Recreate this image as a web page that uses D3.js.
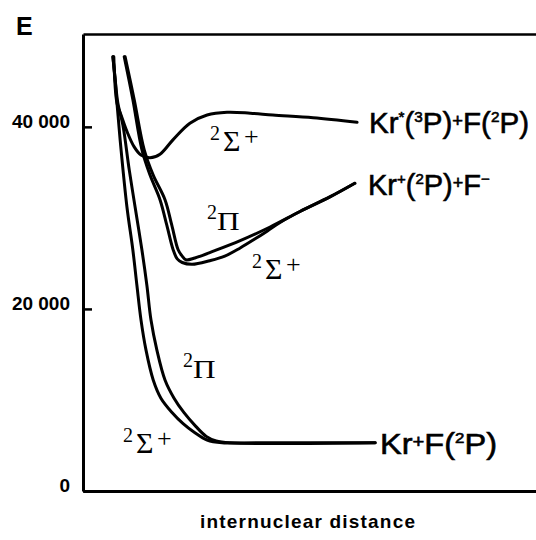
<!DOCTYPE html>
<html>
<head>
<meta charset="utf-8">
<script src="https://cdn.jsdelivr.net/npm/d3@7"></script>
<style>
  body { margin: 0; background: #fff; }
  svg { display: block; }
</style>
</head>
<body>
<svg id="chart" width="536" height="540"></svg>
<script>
// Potential energy curves of KrF: energy (cm^-1) against internuclear distance (arbitrary units)

// Ground state Kr + F(2P), 2Σ+ branch
const groundSigmaR = [0.66, 0.71, 0.75, 0.84, 0.97, 1.10, 1.19, 1.28, 1.39, 1.55, 1.72, 1.97, 2.21, 2.47, 2.74, 3.07, 3.91, 6.45];
const groundSigmaE = [47700, 45200, 42600, 37500, 31200, 26500, 22600, 18800, 15500, 12200, 10200, 8600, 7400, 6400, 5600, 5300, 5300, 5300];

// Ground state Kr + F(2P), 2Π branch
const groundPiR = [0.66, 0.71, 0.77, 0.88, 1.02, 1.15, 1.30, 1.41, 1.50, 1.63, 1.81, 2.01, 2.23, 2.49, 2.72, 2.94, 3.25, 6.45];
const groundPiE = [47700, 45200, 42600, 40200, 35300, 31200, 26500, 22600, 18800, 15500, 12200, 10200, 8600, 7100, 6000, 5500, 5300, 5300];

// Covalent excited state Kr*(3P) + F(2P), 2Σ+
const excitedR = [0.68, 0.75, 0.84, 0.97, 1.13, 1.28, 1.48, 1.70, 1.99, 2.36, 2.74, 3.18, 3.69, 4.19, 5.08, 6.05];
const excitedE = [47700, 42600, 41300, 39500, 37800, 36900, 36600, 37000, 38600, 40400, 41300, 41600, 41500, 41300, 41000, 40500];

// Ionic state Kr+(2P) + F-, 2Σ+ branch
const ionicSigmaR = [0.91, 1.10, 1.30, 1.48, 1.70, 1.85, 1.99, 2.08, 2.19, 2.41, 2.80, 3.13, 3.47, 3.80, 4.08, 4.35, 4.79, 5.45, 6.00];
const ionicSigmaE = [47700, 43000, 37500, 34700, 32000, 29200, 26500, 25500, 25100, 24900, 25300, 25800, 26700, 27700, 28600, 29500, 30700, 32300, 33800];

// Ionic state Kr+(2P) + F-, 2Π branch
const ionicPiR = [0.93, 1.13, 1.35, 1.55, 1.81, 1.96, 2.10, 2.19, 2.27, 2.47, 2.91, 3.47, 4.13, 4.79, 5.45, 6.00];
const ionicPiE = [47700, 43000, 37500, 34700, 32000, 29200, 26500, 25800, 25400, 25600, 26400, 27500, 29000, 30700, 32300, 33800];

const energyTicks = [0, 20000, 40000];

const width = 536, height = 540;
const svg = d3.select("#chart");

const x = d3.scaleLinear().domain([0, 10]).range([83, 536]);
const y = d3.scaleLinear().domain([0, 50200]).range([491, 34]);

const fmt = d3.formatLocale({ decimal: ".", thousands: " ", grouping: [3], currency: ["", ""] }).format(",");

// Left energy axis with ticks pointing into the plot
const yAxis = d3.axisLeft(y)
  .tickValues(energyTicks)
  .tickFormat(fmt)
  .tickSizeInner(-9)
  .tickSizeOuter(0)
  .tickPadding(13);

const gy = svg.append("g").attr("transform", `translate(${x(0)},0)`).call(yAxis);
gy.select(".domain").attr("stroke", "#000").attr("stroke-width", 3);
gy.selectAll(".tick line").attr("stroke", "#000").attr("stroke-width", 2.5);
gy.selectAll(".tick text")
  .attr("fill", "#000")
  .attr("dy", "0.02em")
  .style("font-family", "'Liberation Sans', Arial, sans-serif")
  .style("font-weight", "bold")
  .style("font-size", "19px");

// Bottom and top frame lines (no ticks on the distance axis)
const xAxisBottom = d3.axisBottom(x).tickValues([]).tickSizeOuter(0);
const gxb = svg.append("g").attr("transform", `translate(0,${y(0)})`).call(xAxisBottom);
gxb.select(".domain").attr("stroke", "#000").attr("stroke-width", 3);

const xAxisTop = d3.axisTop(x).tickValues([]).tickSizeOuter(0);
const gxt = svg.append("g").attr("transform", `translate(0,${y(50200)})`).call(xAxisTop);
gxt.select(".domain").attr("stroke", "#000").attr("stroke-width", 2.5);

// Potential curves
const line = d3.line()
  .x(d => x(d[0]))
  .y(d => y(d[1]))
  .curve(d3.curveCatmullRom.alpha(0.5));

const curves = [
  [groundSigmaR, groundSigmaE],
  [groundPiR, groundPiE],
  [excitedR, excitedE],
  [ionicSigmaR, ionicSigmaE],
  [ionicPiR, ionicPiE]
];

svg.append("g")
  .selectAll("path")
  .data(curves.map(([rs, es]) => rs.map((r, i) => [r, es[i]])))
  .join("path")
  .attr("d", line)
  .attr("fill", "none")
  .attr("stroke", "#000")
  .attr("stroke-width", 3)
  .attr("stroke-linecap", "round")
  .attr("stroke-linejoin", "round");

// Molecular term symbols (serif)
const serif = "'Liberation Serif', 'Times New Roman', serif";
function term(x0, yb, sym) {
  const g = svg.append("g").attr("fill", "#000").style("font-family", serif);
  g.append("text").attr("x", x0).attr("y", yb - 11).style("font-size", "20px").text("2");
  if (sym === "Σ") {
    g.append("text").attr("x", x0 + 13).attr("y", yb).style("font-size", "30px").text("Σ");
    g.append("text").attr("x", x0 + 34).attr("y", yb - 6).style("font-size", "26px").text("+");
  } else {
    g.append("text")
      .attr("transform", `translate(${x0 + 10},${yb}) scale(1.25,1)`)
      .style("font-size", "25px").text("Π");
  }
}
term(210, 151, "Σ");
term(252, 279, "Σ");
term(207, 230, "Π");
term(183, 378, "Π");
term(123, 453, "Σ");

// Dissociation limits (condensed sans with raised superscripts)
function limit(xs, yb, parts, len) {
  const t = svg.append("text")
    .attr("x", xs).attr("y", yb)
    .attr("fill", "#000")
    .attr("stroke", "#000")
    .attr("stroke-width", 0.6)
    .style("font-family", "'Liberation Sans Narrow', 'Liberation Sans', Arial, sans-serif")
    .style("font-size", "29px");
  if (len) t.attr("textLength", len).attr("lengthAdjust", "spacingAndGlyphs");
  let shift = 0;
  parts.forEach(([s, kind]) => {
    let target = 0, size = null;
    if (kind === "sup") { target = -11; size = "15px"; }
    if (kind === "op") { target = -6; size = "18px"; }
    const ts = t.append("tspan").attr("dy", target - shift).text(s);
    if (size) ts.style("font-size", size);
    shift = target;
  });
  if (shift !== 0) t.append("tspan").attr("dy", -shift).text("");
}
limit(369, 133, [["Kr", "n"], ["*", "sup"], ["(", "n"], ["3", "sup"], ["P)", "n"], ["+", "op"], ["F(", "n"], ["2", "sup"], ["P)", "n"]], 160);
limit(368, 195, [["Kr", "n"], ["+", "sup"], ["(", "n"], ["2", "sup"], ["P)", "n"], ["+", "op"], ["F", "n"], ["−", "sup"]], null);
limit(380, 454, [["Kr", "n"], ["+", "op"], ["F(", "n"], ["2", "sup"], ["P)", "n"]], 117);

// Axis captions
svg.append("text")
  .attr("x", 16).attr("y", 35)
  .attr("fill", "#000")
  .style("font-family", "'Liberation Sans', Arial, sans-serif")
  .style("font-weight", "bold")
  .style("font-size", "25px")
  .text("E");

svg.append("text")
  .attr("x", 200).attr("y", 528)
  .attr("fill", "#000")
  .attr("textLength", 215).attr("lengthAdjust", "spacing")
  .style("font-family", "'Liberation Sans', Arial, sans-serif")
  .style("font-weight", "bold")
  .style("font-size", "19px")
  .text("internuclear distance");
</script>
</body>
</html>
